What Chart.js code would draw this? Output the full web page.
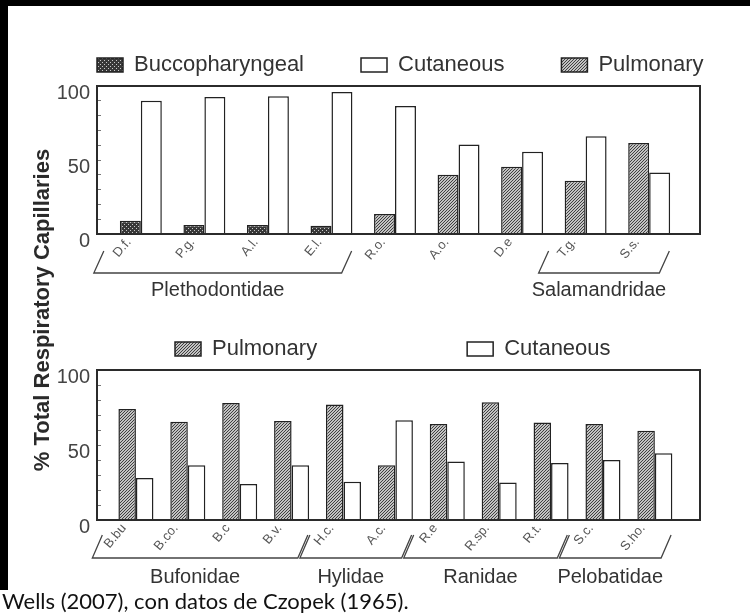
<!DOCTYPE html>
<html>
<head>
<meta charset="utf-8">
<script src="https://cdn.jsdelivr.net/npm/chart.js@4.4.0/dist/chart.umd.min.js"></script>
<style>
  html, body { margin: 0; padding: 0; width: 750px; height: 616px; overflow: hidden; background: #fff; }
  body { position: relative; }
  canvas { position: absolute; left: 0; }
  #topChart { top: 0; }
  #bottomChart { top: 290px; }
  .strip { position: absolute; background: #000; z-index: 5; }
  #ytitle {
    position: absolute; left: -159px; top: 298px; width: 400px; height: 24px; line-height: 24px;
    text-align: center; transform: rotate(-90deg);
    font: bold 22px "Liberation Sans", Arial, sans-serif; color: #2a2a2a;
  }
  #caption {
    position: absolute; left: 2px; top: 587px; z-index: 6;
    font: 22px Lato, "Noto Sans", sans-serif; color: #111; white-space: nowrap;
  }
</style>
</head>
<body>
<canvas id="topChart" width="800" height="312"></canvas>
<canvas id="bottomChart" width="800" height="300"></canvas>
<div class="strip" style="left:0;top:0;width:750px;height:6px"></div>
<div class="strip" style="left:0;top:0;width:8px;height:590px"></div>
<div id="ytitle">% Total Respiratory Capillaries</div>
<div id="caption">Wells (2007), con datos de Czopek (1965).</div>
<script>
// upper panel: salamanders
const topLabels = ["D.f.", "P.g.", "A.l.", "E.l.", "R.o.", "A.o.", "D.e", "T.g.", "S.s."];
const topBucco = [9, 6, 6, 5.5, null, null, null, null, null];
const topPulm = [null, null, null, null, 13.5, 40, 45.5, 36, 61.5];
const topCut = [90, 92.5, 93, 96, 86.5, 60.5, 55.5, 66, 41.5];
const topGroupNames = ["Plethodontidae", "Salamandridae"];
const topGroupFrom = [0, 7];
const topGroupTo = [3, 8];
const topLegend = ["Buccopharyngeal", "Cutaneous", "Pulmonary"];

// lower panel: anurans
const botLabels = ["B.bu", "B.co.", "B.c", "B.v.", "H.c.", "A.c.", "R.e", "R.sp.", "R.t.", "S.c.", "S.ho."];
const botPulm = [74, 65.5, 78, 66, 77, 36.5, 64, 78.5, 65, 64, 59.5];
const botCut = [28, 36.5, 24, 36.5, 25.5, 66.5, 39, 25, 38, 40, 44.5];
const botGroupNames = ["Bufonidae", "Hylidae", "Ranidae", "Pelobatidae"];
const botGroupFrom = [0, 4, 6, 9];
const botGroupTo = [3, 5, 8, 10];
const botLegend = ["Pulmonary", "Cutaneous"];

const FONT = '"Liberation Sans", Arial, sans-serif';

function hatch() {
  let c = document.createElement("canvas");
  c.width = 3; c.height = 3;
  let g = c.getContext("2d");
  g.fillStyle = "#c2c2c2"; g.fillRect(0, 0, 3, 3);
  g.fillStyle = "#404040";
  for (let i = 0; i < 3; i++) g.fillRect(i, 2 - i, 1, 1);
  return g.createPattern(c, "repeat");
}
function dots() {
  let c = document.createElement("canvas");
  c.width = 4; c.height = 4;
  let g = c.getContext("2d");
  g.fillStyle = "#383838"; g.fillRect(0, 0, 4, 4);
  g.fillStyle = "#c8c8c8";
  g.fillRect(0, 0, 1, 1); g.fillRect(2, 2, 1, 1);
  return g.createPattern(c, "repeat");
}
let pulmFill = hatch();
let buccoFill = dots();

function pts(arr) {
  return arr.map((v, i) => ({ x: i, y: v }));
}

// box around plot + family brackets under the labels
const framePlugin = {
  id: "frame",
  afterDraw(chart, args, o) {
    let ctx = chart.ctx, a = chart.chartArea, x = chart.scales.x;
    ctx.save();
    ctx.strokeStyle = "#2b2b2b";
    ctx.lineWidth = 2;
    ctx.strokeRect(a.left, a.top, a.right - a.left, a.bottom - a.top);
    let unit = x.getPixelForValue(1) - x.getPixelForValue(0);
    ctx.lineWidth = 1.3;
    ctx.strokeStyle = "#444";
    ctx.fillStyle = "#333";
    ctx.font = "20px " + FONT;
    ctx.textAlign = "center";
    ctx.textBaseline = "middle";
    o.names.forEach((name, i) => {
      let l = x.getPixelForValue(o.from[i]) - o.padL * unit;
      let r = x.getPixelForValue(o.to[i]) + o.padR * unit;
      let yb = a.bottom + o.lineY, yt = a.bottom + o.armY;
      ctx.beginPath();
      ctx.moveTo(l + 10, yt); ctx.lineTo(l, yb); ctx.lineTo(r, yb); ctx.lineTo(r + 10, yt);
      ctx.stroke();
      ctx.fillText(name, (l + r) / 2, a.bottom + o.textY);
    });
    ctx.restore();
  }
};

function makeChart(id, cfg) {
  return new Chart(document.getElementById(id), {
    type: "bar",
    data: { datasets: cfg.datasets },
    plugins: [framePlugin],
    options: {
      responsive: false,
      animation: false,
      events: [],
      layout: { padding: { left: cfg.padLeft, top: cfg.padTop, right: 0, bottom: 0 } },
      datasets: { bar: { skipNull: true, categoryPercentage: cfg.catPct, barPercentage: 1, borderWidth: 1.5, borderColor: "#222" } },
      scales: {
        x: {
          type: "linear", min: cfg.xMin, max: cfg.xMax, offset: false,
          afterBuildTicks: s => { s.ticks = cfg.labels.map((l, i) => ({ value: i })); },
          afterFit: s => { s.height = cfg.xHeight; },
          grid: { display: false, offset: false },
          border: { display: false },
          ticks: {
            autoSkip: false, minRotation: 50, maxRotation: 50, padding: -7, labelOffset: -12,
            color: "#555", font: { family: FONT, size: 13 },
            callback: v => cfg.labels[v]
          }
        },
        y: {
          min: 0, max: 100,
          afterFit: s => { s.width = cfg.yWidth; },
          grid: { drawOnChartArea: false, drawTicks: true, tickLength: -4, color: "#777" },
          border: { display: false },
          ticks: {
            stepSize: 10, autoSkip: false, padding: 11, labelOffset: 7,
            color: "#444", font: { family: FONT, size: 20 },
            callback: v => (v % 50 === 0 ? v : "")
          }
        },
        y2: {
          position: "right", display: true,
          afterFit: s => { s.width = 100; },
          grid: { display: false }, border: { display: false }, ticks: { display: false }
        }
      },
      plugins: {
        tooltip: { enabled: false },
        legend: {
          display: true, position: "top", align: "start",
          labels: {
            boxWidth: 26, boxHeight: 14, padding: cfg.legendPad, color: "#333",
            font: { family: FONT, size: 22 },
            sort: (a, b) => cfg.legend.indexOf(a.text) - cfg.legend.indexOf(b.text)
          }
        },
        frame: cfg.groups
      }
    }
  });
}

makeChart("topChart", {
  labels: topLabels,
  legend: topLegend,
  datasets: [
    { label: "Buccopharyngeal", data: pts(topBucco), backgroundColor: buccoFill },
    { label: "Pulmonary", data: pts(topPulm), backgroundColor: pulmFill },
    { label: "Cutaneous", data: pts(topCut), backgroundColor: "#fff" }
  ],
  xMin: -0.69, xMax: 8.8, catPct: 0.66,
  padLeft: 40, yWidth: 57, legendPad: 57, padTop: -3, xHeight: 78,
  groups: { names: topGroupNames, from: topGroupFrom, to: topGroupTo, lineY: 39, armY: 17, textY: 56, padL: 0.74, padR: 0.16 }
});

makeChart("bottomChart", {
  labels: botLabels,
  legend: botLegend,
  datasets: [
    { label: "Pulmonary", data: pts(botPulm), backgroundColor: pulmFill },
    { label: "Cutaneous", data: pts(botCut), backgroundColor: "#fff" }
  ],
  xMin: -0.75, xMax: 10.87, catPct: 0.675,
  padLeft: 25, yWidth: 72, legendPad: 150, padTop: -102, xHeight: 70,
  groups: { names: botGroupNames, from: botGroupFrom, to: botGroupTo, lineY: 38, armY: 15, textY: 57, padL: 0.84, padR: 0.12 }
});
</script>
</body>
</html>
